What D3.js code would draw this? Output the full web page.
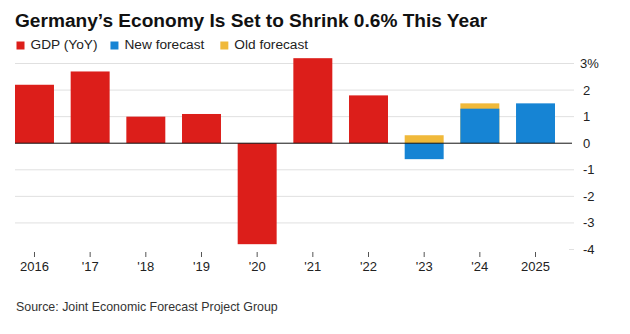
<!DOCTYPE html>
<html>
<head>
<meta charset="utf-8">
<script src="https://cdn.jsdelivr.net/npm/d3@7"></script>
<style>
  body { margin: 0; background: #fff; }
  svg { display: block; font-family: "Liberation Sans", Arial, sans-serif; }
</style>
</head>
<body>
<svg width="630" height="334"></svg>
<script>
// data
const years = ["2016", "'17", "'18", "'19", "'20", "'21", "'22", "'23", "'24", "2025"];
const gdp = [2.2, 2.7, 1.0, 1.1, -3.8, 3.2, 1.8, null, null, null];
const newForecast = [null, null, null, null, null, null, null, -0.6, 1.3, 1.5];
const oldForecast = [null, null, null, null, null, null, null, 0.3, 1.5, null];
const yTicks = [3, 2, 1, 0, -1, -2, -3, -4];

const red = "#dc1e1a", blue = "#1684d4", yellow = "#f0b93a";

let svg = d3.select("svg");

const plotLeft = 15, plotRight = 574;

let x = d3.scaleBand()
    .domain(years)
    .range([15, 555])
    .paddingInner(0.3)
    .paddingOuter(0);

let y = d3.scaleLinear()
    .domain([-4, 3])
    .range([249.5, 63.5]);

// title
svg.append("text")
    .attr("x", 15)
    .attr("y", 27)
    .attr("font-size", 19.1)
    .attr("font-weight", "bold")
    .attr("fill", "#111")
    .text("Germany\u2019s Economy Is Set to Shrink 0.6% This Year");

// legend
const legend = [["GDP (YoY)", red], ["New forecast", blue], ["Old forecast", yellow]];
let lx = 16.5;
legend.forEach(function (d, i) {
    svg.append("rect")
        .attr("x", lx).attr("y", 41.5)
        .attr("width", 8).attr("height", 8)
        .attr("fill", d[1]);
    let t = svg.append("text")
        .attr("x", lx + 14).attr("y", 49)
        .attr("font-size", 13.7)
        .attr("fill", "#222")
        .text(d[0]);
    lx += 14 + t.node().getComputedTextLength() + (i === 0 ? 13 : 16);
});

// gridlines
svg.append("g")
    .selectAll("line")
    .data(yTicks.filter(function (d) { return d !== 0 && d !== -4; }))
    .join("line")
    .attr("x1", plotLeft).attr("x2", plotRight)
    .attr("y1", function (d) { return y(d); })
    .attr("y2", function (d) { return y(d); })
    .attr("stroke", "#e0e0e0")
    .attr("stroke-width", 1);

// small stub at -4
svg.append("line")
    .attr("x1", plotRight - 5).attr("x2", plotRight)
    .attr("y1", y(-4)).attr("y2", y(-4))
    .attr("stroke", "#e0e0e0");

// y tick labels
svg.append("g")
    .selectAll("text")
    .data(yTicks)
    .join("text")
    .attr("x", function (d) { return d === 3 ? 580 : 583; })
    .attr("y", function (d) { return y(d) + 4.5; })
    .attr("font-size", 13)
    .attr("fill", "#222")
    .text(function (d) { return d === 3 ? "3%" : d; });

// bars
let bars = svg.append("g");

function drawSeries(values, colour) {
    bars.append("g")
        .selectAll("rect")
        .data(years.map(function (yr, i) { return { year: yr, v: values[i] }; })
            .filter(function (d) { return d.v !== null; }))
        .join("rect")
        .attr("x", function (d) { return x(d.year); })
        .attr("width", x.bandwidth())
        .attr("y", function (d) { return y(Math.max(0, d.v)); })
        .attr("height", function (d) { return Math.abs(y(d.v) - y(0)); })
        .attr("fill", colour);
}

// old forecast behind the new one
drawSeries(oldForecast, yellow);
drawSeries(gdp, red);
drawSeries(newForecast, blue);

// zero line
svg.append("line")
    .attr("x1", plotLeft).attr("x2", plotRight - 2)
    .attr("y1", y(0)).attr("y2", y(0))
    .attr("stroke", "#111")
    .attr("stroke-width", 1);

// x axis ticks and labels
let xa = svg.append("g");
xa.selectAll("line")
    .data(years)
    .join("line")
    .attr("x1", function (d) { return x(d) + x.bandwidth() / 2; })
    .attr("x2", function (d) { return x(d) + x.bandwidth() / 2; })
    .attr("y1", 252).attr("y2", 257)
    .attr("stroke", "#555");

xa.selectAll("text")
    .data(years)
    .join("text")
    .attr("x", function (d) { return x(d) + x.bandwidth() / 2; })
    .attr("y", 271)
    .attr("text-anchor", "middle")
    .attr("font-size", 13)
    .attr("fill", "#222")
    .text(function (d) { return d; });

// source
svg.append("text")
    .attr("x", 16)
    .attr("y", 311)
    .attr("font-size", 12.4)
    .attr("fill", "#333")
    .text("Source: Joint Economic Forecast Project Group");
</script>
</body>
</html>
